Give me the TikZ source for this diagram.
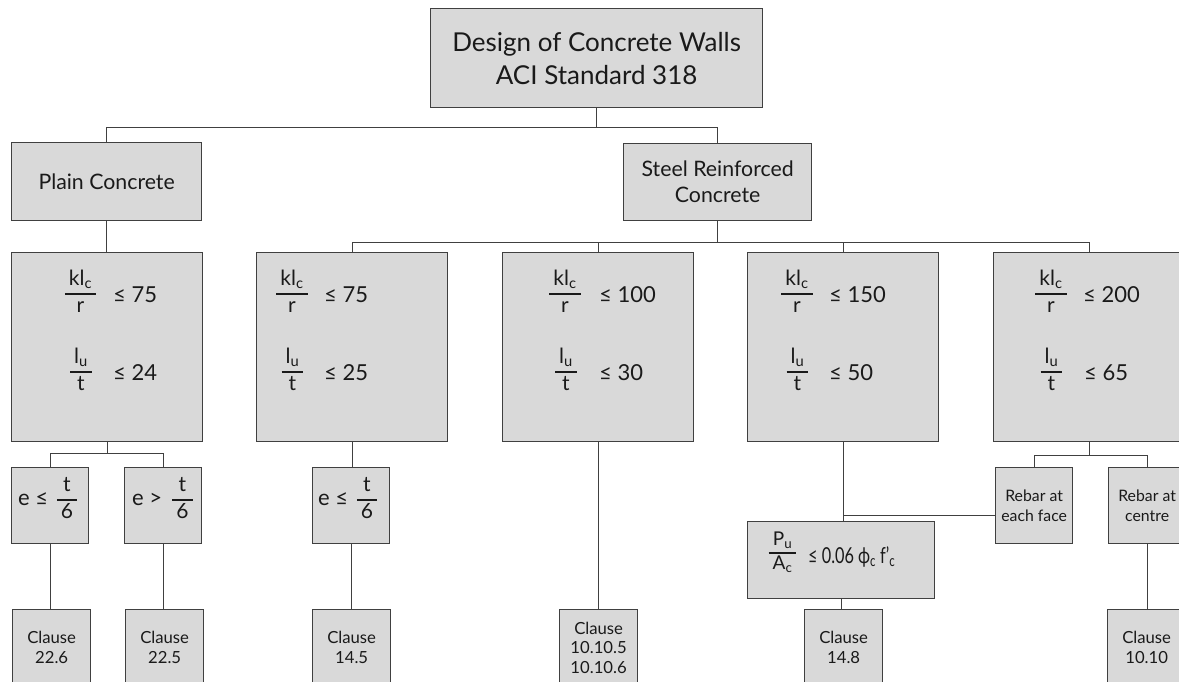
\documentclass[tikz,border=0pt]{standalone}
\usepackage{fontspec}
\setmainfont{Lato}
\usetikzlibrary{calc}
\definecolor{boxfill}{HTML}{D9D9D9}
\definecolor{boxline}{HTML}{404040}
\definecolor{txt}{HTML}{1A1A1A}
\setlength\arrayrulewidth{1.2pt}
\newcommand\myfr[2]{\begin{tabular}{@{\hspace{4pt}}c@{\hspace{4pt}}}#1\\\hline #2\end{tabular}}
\begin{document}
\begin{tikzpicture}[x=1pt,y=1pt,
 box/.style={draw=boxline, fill=boxfill, line width=1.3pt, inner sep=0pt, anchor=north west, text=txt, align=center},
 conn/.style={draw=boxline, line width=1.2pt},
 big/.style={font=\fontsize{26}{33}\selectfont},
 mid/.style={font=\fontsize{21.3}{26}\selectfont},
 cl/.style={font=\fontsize{16.7}{19.5}\selectfont},
 rb/.style={font=\fontsize{15.8}{19.5}\selectfont},
 frac/.style={inner sep=0pt, text=txt, font=\fontsize{21}{26}\selectfont, anchor=center},
 rel/.style={inner sep=0pt, text=txt, font=\fontsize{22}{26}\selectfont, anchor=base west},
 leaf/.style={box, cl, minimum width=78, minimum height=76},
 ebox/.style={box, minimum width=77, minimum height=76},
 crit/.style={box, minimum width=191, minimum height=189}
]
\useasboundingbox (0,0) rectangle (1179,-681);
% level 0, 1
\node[box,big,minimum width=332,minimum height=99] (top) at (430,-8) {Design of Concrete Walls\\ACI Standard 318};
\node[box,mid,minimum width=190,minimum height=78] (plain) at (11,-142) {Plain Concrete};
\node[box,mid,minimum width=188,minimum height=77] (steel) at (623,-143) {Steel Reinforced\\Concrete};
% level 2
\node[crit] (b1) at (11,-252) {};
\node[crit] (b2) at (256,-252) {};
\node[crit] (b3) at (502,-252) {};
\node[crit] (b4) at (747,-252) {};
\node[crit] (b5) at (993,-252) {};
\node[frac] (f1a) at (80.5,-294) {\myfr{kl\textsubscript{c}}{r}};
\node[rel] (r1a) at (113,-302) {≤ 75};
\node[frac] (f1b) at (81,-372) {\myfr{l\textsubscript{u}}{t}};
\node[rel] (r1b) at (113,-380) {≤ 24};
\node[frac] (f2a) at (292,-294) {\myfr{kl\textsubscript{c}}{r}};
\node[rel] (r2a) at (324,-302) {≤ 75};
\node[frac] (f2b) at (292.5,-372) {\myfr{l\textsubscript{u}}{t}};
\node[rel] (r2b) at (324,-380) {≤ 25};
\node[frac] (f3a) at (565,-294) {\myfr{kl\textsubscript{c}}{r}};
\node[rel] (r3a) at (599,-302) {≤ 100};
\node[frac] (f3b) at (566,-372) {\myfr{l\textsubscript{u}}{t}};
\node[rel] (r3b) at (599,-380) {≤ 30};
\node[frac] (f4a) at (797,-294) {\myfr{kl\textsubscript{c}}{r}};
\node[rel] (r4a) at (829,-302) {≤ 150};
\node[frac] (f4b) at (797.5,-372) {\myfr{l\textsubscript{u}}{t}};
\node[rel] (r4b) at (829,-380) {≤ 50};
\node[frac] (f5a) at (1051,-294) {\myfr{kl\textsubscript{c}}{r}};
\node[rel] (r5a) at (1083,-302) {≤ 200};
\node[frac] (f5b) at (1051.5,-372) {\myfr{l\textsubscript{u}}{t}};
\node[rel] (r5b) at (1084,-380) {≤ 65};
% level 3
\node[ebox] (e1) at (11,-467) {};
\node[rel] (e1t) at (18,-505) {e ≤};
\node[frac] (e1f) at (67,-500) {\myfr{t}{6}};
\node[ebox] (e2) at (124,-467) {};
\node[rel] (e2t) at (132,-505) {e >};
\node[frac] (e2f) at (182.5,-500) {\myfr{t}{6}};
\node[ebox] (e3) at (312,-467) {};
\node[rel] (e3t) at (318,-505) {e ≤};
\node[frac] (e3f) at (367,-500) {\myfr{t}{6}};
\node[ebox,rb] (rf) at (995,-467) {Rebar at\\each face};
\node[ebox,rb] (rc) at (1108,-467) {Rebar at\\centre};
\node[box,minimum width=187,minimum height=77] (pbox) at (747,-521) {};
\node[frac,font=\fontsize{19}{23}\selectfont] (pf) at (782.5,-553) {\myfr{P\textsubscript{u}}{A\textsubscript{c}}};
\node[rel] (pr) at (808,-563) {\scalebox{0.74}[1]{≤ 0.06 ϕ\textsubscript{c} f’\textsubscript{c}}};
% leaves
\node[leaf] (c1) at (12,-609) {Clause\\22.6};
\node[leaf] (c2) at (125,-609) {Clause\\22.5};
\node[leaf] (c3) at (312,-609) {Clause\\14.5};
\node[leaf] (c4) at (559,-609) {Clause\\10.10.5\\10.10.6};
\node[leaf] (c5) at (804,-609) {Clause\\14.8};
\node[leaf] (c6) at (1107,-609) {Clause\\10.10};
% connectors
\coordinate (j1) at ($(top.south)+(0,-19)$);
\draw[conn] (top.south) -- (j1);
\draw[conn] (plain.north) |- (j1) -| (steel.north);
\draw[conn] (plain.south) -- (plain.south |- b1.north);
\coordinate (j2) at ($(steel.south)+(0,-21)$);
\draw[conn] (steel.south) -- (j2);
\draw[conn] (b2.north) |- (j2) -| (b5.north);
\draw[conn] (b3.north) -- (b3.north |- j2);
\draw[conn] (b4.north) -- (b4.north |- j2);
\coordinate (j3) at ($(b1.south)+(0,-11)$);
\draw[conn] (b1.south) -- (j3);
\draw[conn] (e1.north) |- (j3) -| (e2.north);
\draw[conn] (e1.south) -- (e1.south |- c1.north);
\draw[conn] (e2.south) -- (e2.south |- c2.north);
\draw[conn] (b2.south) -- (b2.south |- e3.north);
\draw[conn] (e3.south) -- (e3.south |- c3.north);
\draw[conn] (b3.south) -- (b3.south |- c4.north);
\draw[conn] (b4.south) -- (b4.south |- pbox.north);
\coordinate (j5) at ($(b4.south)+(0,-73)$);
\draw[conn] (rf.west |- j5) -- (j5);
\coordinate (j4) at ($(b5.south)+(0,-13)$);
\draw[conn] (b5.south) -- (j4);
\draw[conn] (rf.north) |- (j4) -| (rc.north);
\draw[conn] (pbox.south) -- (pbox.south |- c5.north);
\draw[conn] (rc.south) -- (rc.south |- c6.north);
\end{tikzpicture}
\end{document}
